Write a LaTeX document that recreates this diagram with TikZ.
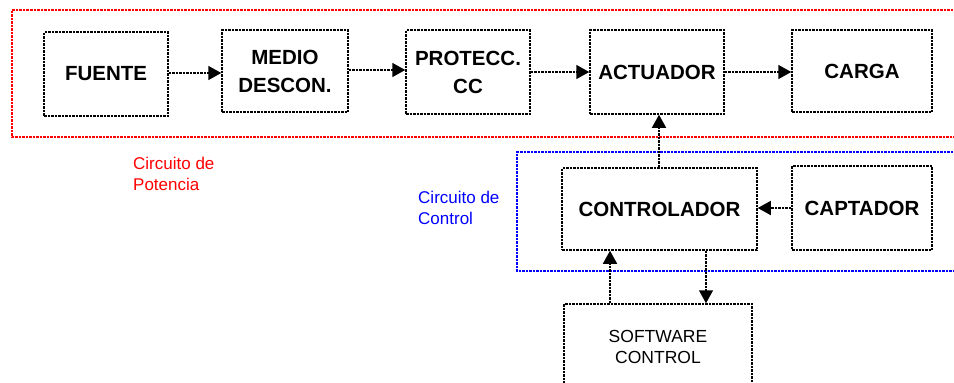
\documentclass[tikz,border=0pt]{standalone}
\usepackage{fontspec}
\setmainfont{Liberation Sans}
\usetikzlibrary{arrows.meta,calc}
\begin{document}
\begin{tikzpicture}[x=1pt,y=-1pt,
  blk/.style={draw=black,line width=1.5pt,dash pattern=on 2.5pt off 1pt,inner sep=0pt,align=center,font=\fontsize{20.5}{28}\selectfont\bfseries},
  swblk/.style={blk,font=\fontsize{17}{21}\selectfont},
  arr/.style={line width=1.5pt,dash pattern=on 2.5pt off 1pt,-{Triangle[length=13pt,width=14pt]}},
  frame/.style={line width=1.6pt,dash pattern=on 2.5pt off 1pt},
  lbl/.style={anchor=north west,inner sep=0pt,align=left,font=\fontsize{17}{21}\selectfont}]
\useasboundingbox (0,0) rectangle (954,383);
\clip (0,0) rectangle (954,383);
\fill[white] (0,0) rectangle (954,383);
% frames
\draw[frame,red] (960,10) -- (12,10) -- (12,137) -- (960,137);
\draw[frame,blue] (960,152) -- (517,152) -- (517,271) -- (960,271);
% blocks
\node[blk,minimum width=124pt,minimum height=84pt] (fu) at (106,74) {FUENTE};
\node[blk,minimum width=126pt,minimum height=82pt] (me) at (285,71) {MEDIO\\DESCON.};
\node[blk,minimum width=124pt,minimum height=84pt] (pr) at (468,72) {PROTECC.\\CC};
\node[blk,minimum width=134pt,minimum height=84pt] (ac) at (657,72) {ACTUADOR};
\node[blk,minimum width=140pt,minimum height=82pt] (ca) at (862,71) {CARGA};
\node[blk,minimum width=195pt,minimum height=82pt] (co) at (659.5,209) {CONTROLADOR};
\node[blk,minimum width=140pt,minimum height=84pt] (cp) at (862,208) {CAPTADOR};
\node[swblk,minimum width=188pt,minimum height=100pt] (sw) at (658,354) {};
\node[font=\fontsize{17.5}{21}\selectfont,align=center,inner sep=0pt] (swt) at (658,347) {SOFTWARE\\CONTROL};
% labels
\node[lbl,red] (lp) at (133,157) {Circuito de\\Potencia};
\node[lbl,blue] (lc) at (418,191) {Circuito de\\Control};
% arrows
\draw[arr] (fu.east |- 0,73) -- (me.west |- 0,73);
\draw[arr] (me.east |- 0,70) -- (pr.west |- 0,70);
\draw[arr] (pr.east |- 0,72) -- (ac.west |- 0,72);
\draw[arr] (ac.east |- 0,72) -- (ca.west |- 0,72);
\draw[arr] (co.north -| 659,0) -- (ac.south -| 659,0);
\draw[arr] (cp.west |- 0,208) -- (co.east |- 0,208);
\draw[arr] (sw.north -| 610,0) -- (co.south -| 610,0);
\draw[arr] (co.south -| 706,0) -- (sw.north -| 706,0);
\end{tikzpicture}
\end{document}
